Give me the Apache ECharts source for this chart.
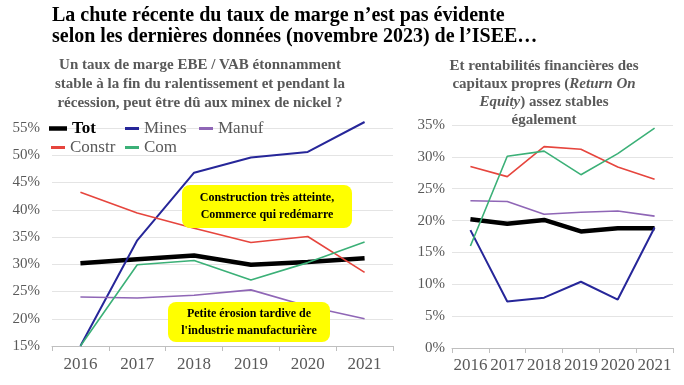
<!DOCTYPE html>
<html><head><meta charset="utf-8">
<script src="https://cdn.jsdelivr.net/npm/echarts@6/dist/echarts.min.js"></script>
<style>html,body{margin:0;padding:0;background:#fff}#c{width:684px;height:385px}</style>
</head><body><div id="c"></div>
<script>
const years = ['2016','2017','2018','2019','2020','2021'];
const seriesNames = ['Tot','Mines','Manuf','Constr','Com'];
// Taux de marge EBE / VAB (%)
const margeTot    = [30.2, 30.9, 31.6, 29.9, 30.4, 31.1];
const margeMines  = [15.0, 34.4, 46.8, 49.6, 50.6, 56.1];
const margeManuf  = [24.0, 23.8, 24.3, 25.3, 22.3, 20.0];
const margeConstr = [43.2, 39.4, 36.6, 34.0, 35.1, 28.5];
const margeCom    = [15.0, 29.9, 30.7, 27.1, 30.3, 34.1];
// Return On Equity (%)
const roeTot    = [20.2, 19.5, 20.1, 18.3, 18.8, 18.8];
const roeMines  = [18.5, 7.3, 7.9, 10.4, 7.6, 18.9];
const roeManuf  = [23.1, 23.0, 21.0, 21.3, 21.5, 20.7];
const roeConstr = [28.5, 26.9, 31.6, 31.2, 28.4, 26.5];
const roeCom    = [16.0, 30.1, 30.9, 27.2, 30.5, 34.5];

const FF = 'Liberation Serif';
const GRAY = '#595959';
const colors = {Tot:'#000000', Mines:'#262699', Manuf:'#8f66b6', Constr:'#e6453d', Com:'#3bb077'};
const widths = {Tot:4.5, Mines:2, Manuf:1.6, Constr:1.6, Com:1.6};

function mk(name, data, idx) {
  return {
    name, type:'line', data, xAxisIndex:idx, yAxisIndex:idx,
    showSymbol:false, symbol:'none', clip:false,
    lineStyle:{color:colors[name], width:widths[name]},
    itemStyle:{color:colors[name]},
    emphasis:{disabled:true}
  };
}

const chart = echarts.init(document.getElementById('c'));
function legendOf(name, left, top) {
  const isTot = name === 'Tot';
  return {
    data:[name], left, top, padding:0, icon:'rect',
    itemWidth: isTot ? 18 : 14, itemHeight: isTot ? 4.5 : 3,
    textStyle:{fontFamily:FF, fontSize:17, color: isTot ? '#000' : GRAY, fontWeight: isTot ? 'bold' : 'normal'}
  };
}
function xAxisOf(idx, margin) {
  return {
    gridIndex:idx, type:'category', data:years, boundaryGap:true,
    axisLine:{lineStyle:{color:'#bfbfbf', width:1}},
    axisTick:{show:true, length:5, lineStyle:{color:'#bfbfbf'}},
    axisLabel:{fontFamily:FF, fontSize:17, color:GRAY, margin, interval:0}
  };
}
function yAxisOf(idx, min, max, margin) {
  return {
    gridIndex:idx, type:'value', min, max, interval:5,
    axisLine:{show:false}, axisTick:{show:false},
    splitLine:{lineStyle:{color:'#e4e4e4', width:1}},
    axisLabel:{fontFamily:FF, fontSize:15, color:GRAY, formatter:'{value}%', margin}
  };
}

chart.setOption({
  animation:false,
  textStyle:{fontFamily:FF},
  grid:[
    {left:52, right:291, top:128, bottom:39},
    {left:452, right:11, top:125, bottom:37}
  ],
  xAxis:[ xAxisOf(0, 10), xAxisOf(1, 9) ],
  yAxis:[ yAxisOf(0, 15, 55, 12), yAxisOf(1, 0, 35, 7) ],
  legend:[
    legendOf('Tot', 49, 120), legendOf('Mines', 125, 120), legendOf('Manuf', 199, 120),
    legendOf('Constr', 51, 139), legendOf('Com', 125, 139)
  ],
  series:[
    mk('Tot', margeTot, 0), mk('Mines', margeMines, 0), mk('Manuf', margeManuf, 0),
    mk('Constr', margeConstr, 0), mk('Com', margeCom, 0),
    mk('Tot', roeTot, 1), mk('Mines', roeMines, 1), mk('Manuf', roeManuf, 1),
    mk('Constr', roeConstr, 1), mk('Com', roeCom, 1)
  ],
  graphic:[
    {type:'text', left:52, top:5, z:100, style:{
      text:'La chute récente du taux de marge n’est pas évidente\nselon les dernières données (novembre 2023) de l’ISEE…',
      font:'bold 20px "Liberation Serif"', fill:'#000', lineHeight:21}},
    {type:'text', x:200, y:56, z:100, style:{
      text:'Un taux de marge EBE / VAB étonnamment\nstable à la fin du ralentissement et pendant la\nrécession, peut être dû aux minex de nickel ?',
      font:'bold 15px "Liberation Serif"', fill:GRAY, lineHeight:19, align:'center'}},
    {type:'text', x:544, y:57, z:100, style:{
      text:'Et rentabilités financières des\ncapitaux propres ({i|Return On}\n{i|Equity}) assez stables\négalement',
      font:'bold 15px "Liberation Serif"', fill:GRAY, lineHeight:18, align:'center',
      rich:{i:{font:'italic bold 15px "Liberation Serif"', fill:GRAY}}}},
    {type:'rect', z:100, shape:{x:182, y:185, width:170, height:43, r:8}, style:{fill:'#ffff00'}},
    {type:'text', z:101, x:267, y:206.5, style:{
      text:'Construction très atteinte,\nCommerce qui redémarre',
      font:'bold 12px "Liberation Serif"', fill:'#000', lineHeight:17, align:'center', verticalAlign:'middle'}},
    {type:'rect', z:100, shape:{x:168, y:302, width:162, height:40, r:8}, style:{fill:'#ffff00'}},
    {type:'text', z:101, x:249, y:322, style:{
      text:'Petite érosion tardive de\nl\'industrie manufacturière',
      font:'bold 12px "Liberation Serif"', fill:'#000', lineHeight:17, align:'center', verticalAlign:'middle'}}
  ]
});
</script></body></html>
